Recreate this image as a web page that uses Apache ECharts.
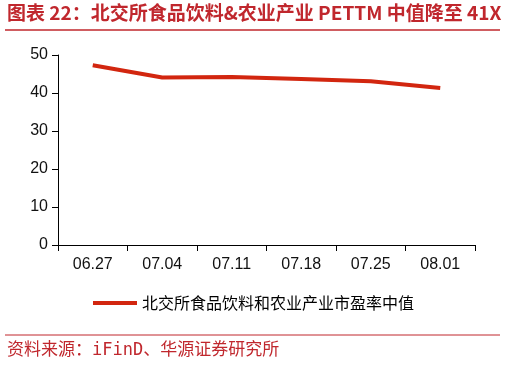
<!DOCTYPE html>
<html><head><meta charset="utf-8">
<script src="https://cdn.jsdelivr.net/npm/echarts@6/dist/echarts.min.js"></script>
<style>html,body{margin:0;padding:0;background:#fff}#c{width:507px;height:368px}</style>
</head><body><div id="c"></div>
<script>
const titleText = '图表 22：北交所食品饮料&农业产业 PETTM 中值降至 41X';
const sourceText = '资料来源：iFinD、华源证券研究所';
const categories = ['06.27','07.04','07.11','07.18','07.25','08.01'];
const seriesName = '北交所食品饮料和农业产业市盈率中值';
const peValues = [47.3, 44.1, 44.2, 43.7, 43.1, 41.3];
const yTicks = [0, 10, 20, 30, 40, 50];

const chart = echarts.init(document.getElementById('c'), null, {renderer:'canvas'});
const red = '#c0272d';
chart.setOption({
  animation:false,
  backgroundColor:'#fff',
  grid:{left:58, right:32, top:55, bottom:123, containLabel:false},
  xAxis:{type:'category', data:categories, boundaryGap:true,
    axisLine:{lineStyle:{color:'#000', width:1}},
    axisTick:{show:true, length:6, lineStyle:{color:'#000'}},
    axisLabel:{color:'#111', fontSize:16, fontFamily:'Liberation Sans, Arial', margin:12}},
  yAxis:{type:'value', min:yTicks[0], max:yTicks[yTicks.length-1], interval:10,
    splitLine:{show:false},
    axisLine:{show:true, lineStyle:{color:'#000', width:1}},
    axisTick:{show:true, length:6, lineStyle:{color:'#000'}},
    axisLabel:{color:'#111', fontSize:16, fontFamily:'Liberation Sans, Arial', margin:10}},
  legend:{show:true, bottom:52, left:'center', itemWidth:44, itemHeight:4, icon:'rect', itemGap:6,
    textStyle:{color:'#000', fontSize:16, fontFamily:'Noto Sans CJK SC'},
    data:[seriesName]},
  series:[{name:seriesName, type:'line', data:peValues, symbol:'none',
    lineStyle:{color:'#d2260f', width:4}, itemStyle:{color:'#d2260f'}}],
  graphic:[
    {type:'text', left:7, top:3, style:{text:titleText, fill:red, font:'bold 19px "Noto Sans CJK SC"'}},
    {type:'line', shape:{x1:5,y1:30,x2:500,y2:30}, style:{stroke:red, lineWidth:1.5}},
    {type:'line', shape:{x1:5,y1:335,x2:500,y2:335}, style:{stroke:red, lineWidth:1}},
    {type:'text', left:7, top:342, style:{text:sourceText, fill:red, font:'17px "DejaVu Sans Mono", "Noto Sans CJK SC"'}}
  ]
});
</script></body></html>
